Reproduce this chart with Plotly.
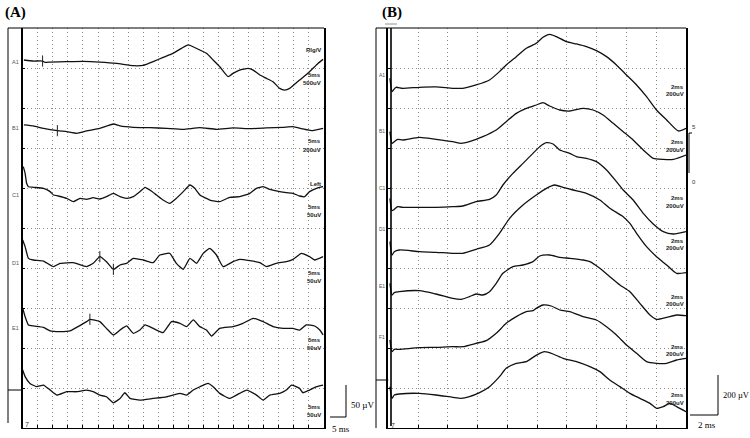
import plotly.graph_objects as go

W, H = 750, 438

# ---------------- Panel A data (time in ms, amplitude in µV) ----------------
A_labels = ["A1", "B1", "C1", "D1", "E1", ""]
A_offsets = [573.4, 471.9, 374.5, 262.5, 159.4, 64.5]

A1_t = [0.4, 3.5, 6.6, 7.4, 9.1, 14.6, 20.1, 25.6, 31.2, 36.7, 40.0, 43.3, 46.6, 49.9, 52.7, 54.9, 56.0,
        58.8, 61.0, 63.2, 65.4, 68.2, 69.8, 72.0, 74.8, 76.5, 78.7, 80.9, 83.1, 85.3, 87.0, 88.6, 91.9,
        95.2, 98.0, 99.7]
A1_v = [1.6, 0, 0, -2.1, -1.6, -1.0, -0.5, -1.6, -3.7, -7.3, -6.8, -1.0, 5.7, 12.0, 19.8, 25.1, 23.5,
        17.2, 12.0, 1.6, -8.9, -24.5, -19.3, -14.1, -11.5, -14.1, -21.9, -27.1, -32.4, -42.8, -45.4, -42.8,
        -29.8, -16.7, -3.7, 2.6]

B1_t = [0.4, 3.5, 6.9, 11.5, 14.6, 17.9, 21.2, 25.6, 30.1, 32.3, 36.7, 42.2, 47.7, 53.3, 58.8, 64.3,
        69.8, 75.4, 80.9, 86.4, 89.7, 93.0, 95.8, 99.7]
B1_v = [1.6, 0, -3.7, -7.3, -8.9, -11.5, -7.8, -3.7, 3.1, 0, -2.1, -2.6, -3.7, -5.2, -2.6, -5.2,
        -3.1, -4.2, -3.1, -2.1, -1.0, -4.7, -7.3, -3.7]

C1_t = [0.2, 0.8, 1.3, 1.9, 3.5, 6.9, 9.1, 10.2, 11.8, 14.6, 16.8, 19.0, 21.2, 23.4, 25.6, 27.8, 30.1,
        32.3, 34.5, 36.7, 38.9, 40.6, 42.2, 44.4, 46.6, 48.8, 51.0, 53.3, 55.5, 57.1, 58.8, 62.1, 65.4,
        68.7, 72.0, 75.4, 77.6, 79.8, 82.0, 85.3, 87.5, 89.7, 91.9, 93.6, 95.2, 97.5, 99.7]
C1_v = [33.9, 23.5, 7.8, 2.6, 1.6, 0, -5.2, -10.4, -12.0, -15.7, -20.9, -15.7, -17.2, -14.6, -16.7,
        -13.1, -7.8, -13.1, -15.7, -13.1, -5.2, 1.6, -2.6, -10.4, -18.3, -23.5, -15.7, -5.2, 5.2, 0,
        -10.4, -18.3, -20.9, -14.1, -13.1, -7.8, 0, 2.6, -1.6, -5.2, -6.8, -7.8, -12.0, -13.1, -5.2, 0, 2.6]

D1_t = [0.0, 0.8, 1.9, 3.5, 6.9, 10.2, 12.4, 16.8, 21.2, 23.4, 25.6, 27.8, 30.1, 32.3, 34.5, 36.7,
        40.0, 43.3, 45.5, 48.8, 51.0, 53.3, 55.5, 57.7, 59.9, 62.1, 64.3, 66.5, 69.8, 72.0, 75.4, 78.7,
        80.9, 84.2, 87.5, 89.7, 92.5, 95.2, 96.9, 99.7]
D1_v = [31.3, 20.9, 2.6, 0, -1.6, -10.4, -5.2, -4.2, -10.4, -5.2, 5.2, -2.6, -14.6, -7.8, -5.2, 2.6,
        0, -4.2, 7.8, 10.4, -5.2, -14.6, 2.6, -5.2, 10.4, 18.3, 7.8, -10.4, -2.6, 1.0, -1.0, -4.2,
        -10.4, -5.2, -2.6, 1.0, 10.4, 5.2, 0, 5.2]

E1_t = [0.0, 0.8, 1.9, 3.5, 6.9, 9.1, 12.4, 15.7, 17.9, 21.2, 22.3, 25.6, 27.8, 30.1, 32.3, 34.5,
        36.7, 38.9, 40.6, 43.3, 46.6, 49.4, 52.2, 54.4, 56.6, 58.8, 61.0, 62.7, 65.4, 69.8, 73.1, 76.5,
        79.8, 83.1, 86.4, 89.7, 91.9, 94.1, 96.9, 98.6, 99.7]
E1_v = [27.7, 14.6, 1.6, 0, -2.1, -7.8, -8.9, -7.8, -2.1, 6.8, 10.4, 6.8, -3.7, -14.1, -6.3, 0,
        -11.5, -6.3, 1.6, -3.7, -10.4, 6.8, 4.2, -1.0, 9.4, -1.0, -6.3, -15.7, -3.7, -1.0, 4.2, 12.0,
        6.8, -1.0, -3.7, -3.7, -6.3, 1.6, 0, -6.3, -14.1]

F1_t = [0.0, 0.8, 2.4, 4.6, 6.9, 9.1, 11.3, 14.6, 17.9, 21.2, 23.4, 25.6, 27.8, 30.1, 32.3, 33.9,
        35.6, 38.9, 43.3, 47.7, 52.2, 54.4, 56.6, 58.8, 61.5, 63.2, 65.4, 68.7, 72.0, 74.3, 77.6, 79.8,
        82.0, 85.3, 87.5, 89.2, 91.9, 93.0, 95.2, 97.5, 99.7]
F1_v = [26.1, 15.7, 5.2, 0, 2.6, -5.2, -13.1, -7.8, -7.8, -5.2, -7.8, -13.1, -15.7, -25.1, -18.3, -9.4,
        -18.3, -20.9, -18.3, -15.7, -10.4, -13.1, -5.2, 0, 5.2, 0, -10.4, -18.3, -10.4, -5.2, -13.1, -20.9,
        -13.1, -10.4, -5.2, 2.6, -2.6, -9.4, -5.2, 0, 2.6]

A_series = [(A1_t, A1_v), (B1_t, B1_v), (C1_t, C1_v), (D1_t, D1_v), (E1_t, E1_v), (F1_t, F1_v)]

# cursor marks on the panel A traces: (trace index, time ms, amplitude µV)
A_cursor_trace = [0, 1, 3, 3, 4]
A_cursor_t = [6.6, 11.5, 25.6, 30.1, 22.3]
A_cursor_v = [0, -7.3, 5.2, -14.6, 10.4]

# ---------------- Panel B data (time in ms, amplitude in µV) ----------------
B_labels = ["A1", "B1", "C1", "D1", "E1", "F1", ""]
B_offsets = [1698.5, 1440.0, 1103.3, 886.7, 681.7, 398.3, 170.0]

BA_t = [0.11, 0.25, 0.34, 0.52, 0.97, 2.09, 3.21, 4.33, 5.0, 5.9, 6.8, 7.47, 7.92, 8.6, 9.27, 9.94,
        10.39, 10.84, 11.29, 11.96, 12.64, 13.31, 13.98, 14.66, 15.33, 16.0, 16.68, 17.35, 18.02, 18.7,
        19.48, 20.0]
BA_v = [50, -16.7, -8.3, 5, 0, 5, 6.7, 0, 0, 16.7, 41.7, 83.3, 116.7, 158.3, 200, 225, 255, 270, 258.3,
        233.3, 221.7, 208.3, 188.3, 158.3, 116.7, 66.7, 16.7, -41.7, -108.3, -158.3, -213.3, -200]

BB_t = [0.11, 0.25, 0.40, 0.63, 0.97, 2.09, 3.21, 4.33, 4.89, 5.45, 6.35, 7.25, 7.92, 8.6, 9.27, 9.94,
        10.39, 10.84, 11.52, 12.19, 13.09, 13.76, 14.43, 15.11, 15.78, 16.45, 17.13, 17.8, 18.47, 19.15,
        20.0]
BB_v = [41.7, -16.7, -8.3, 3.3, 0, 13.3, 3.3, -8.3, -16.7, -8.3, 16.7, 50, 91.7, 133.3, 158.3, 175,
        186.7, 170, 150, 145, 158.3, 150, 125, 83.3, 41.7, 0, -50, -91.7, -96.7, -96.7, -75]

BC_t = [0.11, 0.25, 0.40, 0.63, 0.97, 2.09, 3.21, 4.33, 5.0, 5.9, 6.8, 7.25, 7.7, 8.37, 9.05, 9.72,
        10.17, 10.62, 11.07, 11.52, 12.19, 12.64, 13.31, 13.98, 14.66, 15.33, 15.78, 16.45, 17.13, 17.8,
        18.47, 19.15, 20.0]
BC_v = [45, -16.7, -10, 3.3, 0, 0, 0, 3.3, 6.7, 28.3, 40, 61.7, 111.7, 170, 220, 270, 303.3, 323.3,
        316.7, 286.7, 270, 253.3, 245, 228.3, 186.7, 128.3, 86.7, 36.7, -30, -83.3, -121.7, -133.3, -121.7]

BD_t = [0.11, 0.25, 0.40, 0.74, 2.09, 3.21, 4.33, 5.0, 5.9, 6.8, 7.47, 8.15, 9.05, 9.94, 10.62, 11.18,
        11.74, 12.41, 13.31, 14.21, 14.88, 15.78, 16.23, 16.68, 17.35, 18.02, 18.7, 19.37, 20.0]
BD_v = [45, -21.7, -5, 3.3, -5, -8.3, -13.3, -13.3, 6.7, 28.3, 86.7, 161.7, 228.3, 278.3, 311.7, 328.3,
        316.7, 303.3, 286.7, 253.3, 211.7, 170, 136.7, 86.7, 20, -30, -71.7, -113.3, -110]

BE_t = [0.11, 0.25, 0.40, 0.74, 2.09, 3.21, 4.33, 4.89, 5.45, 5.9, 6.35, 6.8, 7.25, 7.7, 8.37, 9.05,
        9.72, 10.17, 10.84, 11.52, 12.19, 13.09, 13.54, 14.21, 14.88, 15.56, 16.23, 16.9, 17.58, 18.02,
        18.7, 19.37, 20.0]
BE_v = [41.7, -16.7, -5, 0, 5, -11.7, -33.3, -38.3, -25, -11.7, -16.7, 0, 41.7, 91.7, 125, 133.3, 150,
        178.3, 183.3, 171.7, 166.7, 158.3, 150, 116.7, 75, 33.3, 0, -58.3, -116.7, -138.3, -128.3,
        -116.7, -120]

BF_t = [0.11, 0.25, 0.40, 0.74, 2.09, 3.21, 4.33, 5.0, 5.9, 6.58, 7.25, 7.92, 8.6, 9.27, 9.72, 9.94,
        10.39, 10.95, 11.52, 12.19, 13.09, 13.98, 14.66, 15.33, 16.0, 16.68, 17.35, 18.02, 18.7, 19.37,
        20.0]
BF_v = [41.7, -16.7, -5, -5, 3.3, 5, 8.3, 8.3, 25, 38.3, 75, 125, 158.3, 183.3, 188.3, 200, 216.7,
        211.7, 191.7, 183.3, 158.3, 141.7, 108.3, 66.7, 16.7, -25, -66.7, -75, -75, -58.3, -50]

BG_t = [0.11, 0.25, 0.40, 0.74, 2.09, 3.21, 4.33, 4.89, 5.45, 6.13, 6.8, 7.47, 7.92, 8.6, 9.27, 9.72,
        10.17, 10.5, 11.07, 11.74, 12.64, 13.54, 14.21, 14.88, 15.56, 16.23, 16.9, 17.58, 18.02, 18.47,
        18.92, 19.37, 20.0]
BG_v = [36.7, -21.7, -5, 0, 3.3, -5, -16.7, -21.7, -13.3, 6.7, 36.7, 86.7, 128.3, 153.3, 161.7, 183.3,
        203.3, 211.7, 200, 178.3, 161.7, 136.7, 111.7, 70, 36.7, 3.3, -21.7, -46.7, -71.7, -63.3, -46.7,
        -63.3, -88.3]

B_series = [(BA_t, BA_v), (BB_t, BB_v), (BC_t, BC_v), (BD_t, BD_v), (BE_t, BE_v), (BF_t, BF_v), (BG_t, BG_v)]

A_right = [["Rlg/V", "5ms", "500uV"], ["5ms", "200uV"], ["Left", "5ms", "50uV"],
           ["5ms", "50uV"], ["5ms", "50uV"], ["5ms", "50uV"]]
B_right = [["2ms", "200uV"]] * 7

# ---------------- Figure ----------------
fig = go.Figure()
for (t, v), off in zip(A_series, A_offsets):
    fig.add_trace(go.Scatter(x=t, y=[off + a for a in v], mode="lines",
                             line=dict(color="#111", width=1.3, shape="spline", smoothing=0.4),
                             xaxis="x", yaxis="y", showlegend=False, hoverinfo="skip"))
fig.add_trace(go.Scatter(x=A_cursor_t,
                         y=[A_offsets[i] + a for i, a in zip(A_cursor_trace, A_cursor_v)],
                         mode="markers", marker=dict(symbol="line-ns", size=8,
                                                     line=dict(color="#222", width=1)),
                         xaxis="x", yaxis="y", showlegend=False, hoverinfo="skip"))
for (t, v), off in zip(B_series, B_offsets):
    fig.add_trace(go.Scatter(x=t, y=[off + a for a in v], mode="lines",
                             line=dict(color="#111", width=1.3, shape="spline", smoothing=0.6),
                             xaxis="x2", yaxis="y2", showlegend=False, hoverinfo="skip"))


def X(px):
    return px / W


def Y(py):
    return 1 - py / H


grid = dict(showgrid=True, gridcolor="#8a8a8a", griddash="1px,3px", gridwidth=1, zeroline=False,
            showticklabels=False, ticks="inside", ticklen=3, tickcolor="black",
            showline=True, linecolor="black")
ydom = [Y(428), Y(28)]
fig.update_layout(
    width=W, height=H, margin=dict(l=0, r=0, t=0, b=0),
    paper_bgcolor="white", plot_bgcolor="white",
    xaxis=dict(domain=[X(22.7), X(324)], range=[0, 100], tick0=0, dtick=5, anchor="y", linewidth=1, **grid),
    yaxis=dict(domain=ydom, range=[0, 625], tick0=0, dtick=62.5, anchor="x", linewidth=1.5, mirror=True, **grid),
    xaxis2=dict(domain=[X(388.3), X(686)], range=[0, 20], tick0=0, dtick=2, anchor="y2", linewidth=1, **grid),
    yaxis2=dict(domain=ydom, range=[0, 2000], tick0=0, dtick=200, anchor="x2", linewidth=2, mirror=True, **grid),
)

shapes = []


def seg(x0, y0, x1, y1, w=1.0, color="black"):
    shapes.append(dict(type="line", xref="paper", yref="paper", x0=X(x0), y0=Y(y0), x1=X(x1), y1=Y(y1),
                       line=dict(color=color, width=w)))


# Panel A frame
seg(8, 28, 324, 28, 1)
seg(8, 28, 8, 423, 1)
seg(8, 390, 22.7, 390, 1)
# Panel B frame
seg(376, 28, 686, 28, 1)
seg(376, 28, 376, 428, 1)
seg(376, 380, 388.3, 380, 1)
seg(391, 28, 391, 426, 1.6)
seg(385, 24, 397, 24, 0.8, "#777")
# mini bar at right of B
seg(689, 133, 689, 173, 1)
seg(689, 133, 692, 133, 1)
# scale bars
seg(346, 385, 346, 417, 1)
seg(330, 417, 346, 417, 1)
seg(718, 375, 718, 415, 1)
seg(690, 415, 718, 415, 1)
fig.update_layout(shapes=shapes)

ann = []


def txt(px, py, s, size=6, color="black", anchor="left", family="Liberation Sans", bold=False):
    if bold:
        s = "<b>" + s + "</b>"
    ann.append(dict(x=X(px), y=Y(py), xref="paper", yref="paper", text=s, showarrow=False,
                    xanchor=anchor, yanchor="middle", font=dict(size=size, color=color, family=family)))


txt(3, 12, "(A)", 15, family="Liberation Serif", bold=True)
txt(380, 12, "(B)", 15, family="Liberation Serif", bold=True)

A_lab_y = [62, 128, 195, 263, 328]
for lab, yy in zip(A_labels, A_lab_y):
    txt(10, yy, lab, 5.5, "#555")
B_lab_y = [75, 131, 188, 229, 286, 337]
for lab, yy in zip(B_labels, B_lab_y):
    txt(377, yy, lab, 5, "#555")

A_right_y = [[50, 75, 83], [141, 150], [184, 207, 215], [273, 281], [340, 348], [407, 415]]
for labs, ys in zip(A_right, A_right_y):
    for s, yy in zip(labs, ys):
        txt(323, yy, s, 6, "#222", anchor="right", bold=True)
B_right_y = [[87, 94], [142, 150], [198, 206], [241, 248], [297, 304], [347, 354], [395, 403]]
for labs, ys in zip(B_right, B_right_y):
    for s, yy in zip(labs, ys):
        txt(686, yy, s, 6, "#222", anchor="right", bold=True)

txt(690, 127, "5", 6, "#333")
txt(690, 182, "0", 6, "#333")
txt(23, 424, "7", 7, "#333")
txt(389, 425, "7", 7, "#333")

txt(349, 405, "50 µV", 9, family="Liberation Serif")
txt(330, 429, "5 ms", 9, family="Liberation Serif")
txt(721, 395, "200 µV", 8.5, family="Liberation Serif")
txt(696, 425, "2 ms", 9, family="Liberation Serif")
fig.update_layout(annotations=ann)

fig.write_html("out.html")
